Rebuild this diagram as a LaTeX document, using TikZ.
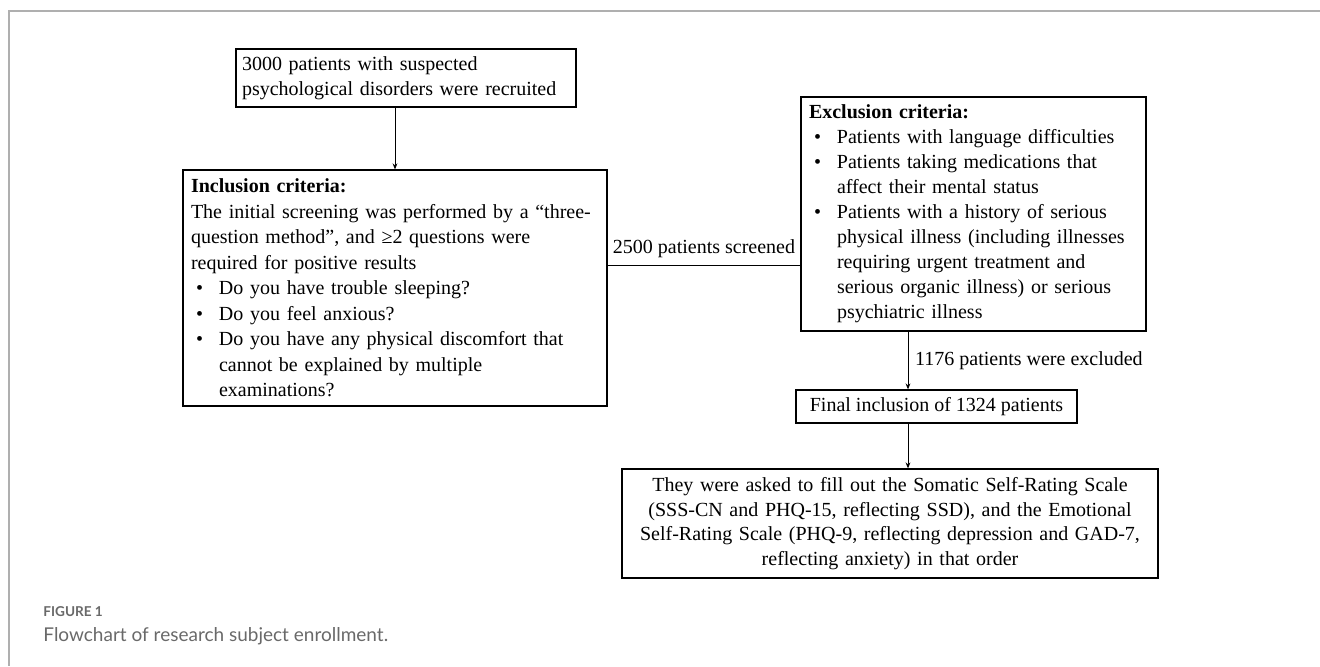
\documentclass[tikz,border=0pt]{standalone}
\usepackage{fontspec}
\setmainfont{Liberation Serif}
\newfontfamily\capfont{Lato}
\usetikzlibrary{arrows.meta}

\definecolor{framegray}{RGB}{175,175,175}
\definecolor{capgray}{RGB}{105,105,105}

% bullet lines and their continuation lines
\newcommand{\critem}{\hspace*{2.5pt}\makebox[11.5pt][l]{\textbullet}}
\newcommand{\crgap}{\hspace*{14pt}}
\newcommand{\just}[2]{\makebox[#1][s]{#2}}

\tikzset{
  box/.style={draw, line width=0.6pt, inner xsep=4pt, inner ysep=2pt},
  leftbox/.style={box, align=left},
  midbox/.style={box, align=center},
  link/.style={line width=0.5pt},
}

\begin{document}
\begin{tikzpicture}[x=0.5pt,y=-0.5pt,>={Stealth[length=3pt,width=2.4pt]},
    font=\fontsize{10}{12.75}\selectfont]
\useasboundingbox (0,0) rectangle (1320,666);
\draw[framegray, line width=1pt] (1320,11) -- (9,11) -- (9,666);

\node[leftbox, inner xsep=3pt, text width=164pt, minimum height=29pt] (recruit) at (406,78)
  {3000 patients with suspected\\psychological disorders were recruited};

\node[leftbox, text width=204pt, minimum height=118pt] (incl) at (395,288)
  {\textbf{Inclusion criteria:}\\
   The initial screening was performed by a “three-\\
   question method”, and ≥2 questions were\\
   required for positive results\\
   \critem Do you have trouble sleeping?\\
   \critem Do you feel anxious?\\
   \critem Do you have any physical discomfort that\\
   \crgap cannot be explained by multiple\\
   \crgap examinations?};

\node[leftbox, text width=164.5pt, minimum height=117pt,
  font=\fontsize{10}{12.5}\selectfont] (excl) at (973.5,214)
  {\textbf{Exclusion criteria:}\\
   \critem Patients with language difficulties\\
   \critem\just{149pt}{Patients taking medications that}\\
   \crgap affect their mental status\\
   \critem\just{149pt}{Patients with a history of serious}\\
   \crgap\just{149pt}{physical illness (including illnesses}\\
   \crgap\just{144pt}{requiring urgent treatment and}\\
   \crgap\just{149pt}{serious organic illness) or serious}\\
   \crgap psychiatric illness};

\node[midbox, minimum width=140.5pt, minimum height=16.5pt] (final) at (936.5,406.5)
  {Final inclusion of 1324 patients};

\node[midbox, text width=260pt, minimum height=54.5pt,
  font=\fontsize{10}{12.2}\selectfont] (scales) at (890,523.5)
  {They were asked to fill out the Somatic Self-Rating Scale\\
   (SSS-CN and PHQ-15, reflecting SSD), and the Emotional\\
   Self-Rating Scale (PHQ-9, reflecting depression and GAD-7,\\
   reflecting anxiety) in that order};

% connectors
\coordinate (scr) at (0,265);
\coordinate (drop) at (908,0);
\draw[link,->] (incl.north |- recruit.south) -- (incl.north);
\draw[link] (incl.east |- scr) -- node[above] {2500 patients screened} (excl.west |- scr);
\draw[link,->] (excl.south -| drop) -- node[right] {1176 patients were excluded} (final.north -| drop);
\draw[link,->] (final.south -| drop) -- (scales.north -| drop);

% caption
\node[anchor=base west, inner sep=0, text=capgray,
  font=\capfont\bfseries\fontsize{6.8}{8}\selectfont] (fignum) at (43,616) {FIGURE 1};
\node[anchor=base west, inner sep=0, text=capgray,
  font=\capfont\fontsize{9.5}{11}\selectfont] (figcap) at (43,641)
  {Flowchart of research subject enrollment.};
\end{tikzpicture}
\end{document}
